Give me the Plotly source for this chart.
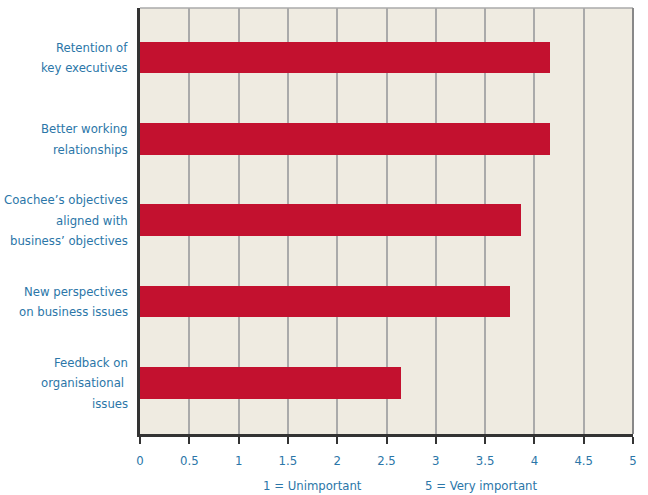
import plotly.graph_objects as go

# Survey results: mean importance rating per coaching benefit
categories = [
    ["Retention of", "key executives"],
    ["Better working", "relationships"],
    ["Coachee’s objectives", "aligned with", "business’ objectives"],
    ["New perspectives", "on business issues"],
    ["Feedback on", "organisational ", "issues"],
]
ratings = [4.16, 4.16, 3.86, 3.75, 2.65]
x_ticks = [0, 0.5, 1, 1.5, 2, 2.5, 3, 3.5, 4, 4.5, 5]
x_tick_text = ["0", "0.5", "1", "1.5", "2", "2.5", "3", "3.5", "4", "4.5", "5"]

FONT = "Liberation Sans Narrow, Arial Narrow, DejaVu Sans Condensed, sans-serif"
BLUE = "#2b76a8"
RED = "#c3112f"
LINE_GAP = 20.5  # px between label lines
positions = list(range(len(categories)))

fig = go.Figure(
    go.Bar(
        x=ratings,
        y=positions,
        orientation="h",
        width=0.39,
        marker=dict(color=RED, line=dict(width=0)),
        hoverinfo="skip",
    )
)

fig.update_layout(
    width=648,
    height=495,
    margin=dict(l=140, r=15, t=8, b=61, autoexpand=False),
    paper_bgcolor="white",
    plot_bgcolor="#efebe1",
    showlegend=False,
    font=dict(family=FONT, color=BLUE, size=13),
    bargap=0,
)

fig.update_xaxes(
    range=[0, 5],
    tickvals=x_ticks,
    ticktext=x_tick_text,
    showgrid=True,
    gridcolor="#aaaaaa",
    gridwidth=1.5,
    zeroline=False,
    showline=True,
    linecolor="#333333",
    linewidth=2.5,
    ticks="outside",
    ticklen=7,
    tickwidth=1.5,
    tickcolor="#333333",
    ticklabelstandoff=6,
    tickfont=dict(family=FONT, color=BLUE, size=13),
    automargin=False,
    fixedrange=True,
)

fig.update_yaxes(
    range=[4.63, -0.61],
    tickvals=positions,
    showticklabels=False,
    showgrid=False,
    zeroline=False,
    showline=True,
    linecolor="#333333",
    linewidth=2.5,
    ticks="",
    automargin=False,
    fixedrange=True,
)

# Category labels, one annotation per line for wider line spacing
for pos, lines in zip(positions, categories):
    n = len(lines)
    for i, line in enumerate(lines):
        fig.add_annotation(
            text=line, xref="paper", x=0, xanchor="right", xshift=-10,
            yref="y", y=pos, yanchor="middle",
            yshift=((n - 1) / 2 - i) * LINE_GAP,
            showarrow=False, font=dict(family=FONT, color=BLUE, size=13),
        )

# Top and right borders of the plotting area
fig.add_shape(type="line", xref="paper", yref="paper", x0=0, x1=1, y0=1, y1=1,
              line=dict(color="#aaaaaa", width=1.5))
fig.add_shape(type="line", xref="paper", yref="paper", x0=1, x1=1, y0=0, y1=1,
              line=dict(color="#888888", width=2))

# Scale key below the axis
fig.add_annotation(text="1 = Unimportant", x=1.75, xref="x", y=-0.12, yref="paper",
                   yanchor="middle", showarrow=False,
                   font=dict(family=FONT, color=BLUE, size=13))
fig.add_annotation(text="5 = Very important", x=3.46, xref="x", y=-0.12, yref="paper",
                   yanchor="middle", showarrow=False,
                   font=dict(family=FONT, color=BLUE, size=13))

fig.write_html("out.html")
